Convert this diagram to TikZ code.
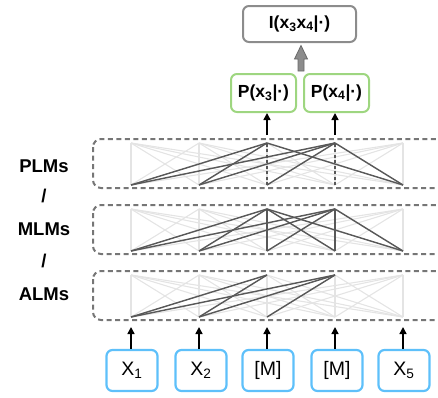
\documentclass[tikz,border=0pt]{standalone}
\usepackage{fontspec}
\setmainfont{Liberation Sans}
\usetikzlibrary{arrows.meta}
\definecolor{inblue}{RGB}{94,192,250}
\definecolor{pgreen}{RGB}{158,214,128}
\definecolor{igray}{RGB}{140,140,140}
\definecolor{dashcol}{RGB}{118,118,118}
\definecolor{lightcol}{RGB}{228,228,228}
\definecolor{darkcol}{RGB}{88,88,88}
\begin{document}
\begin{tikzpicture}[x=1pt,y=-1pt,
  inbox/.style={draw=inblue, line width=2.2pt, rounded corners=6pt, minimum width=51pt, minimum height=41pt, inner sep=0pt, font=\fontsize{19.5}{19.5}\selectfont},
  pbox/.style={draw=pgreen, line width=2pt, rounded corners=6pt, minimum width=65pt, minimum height=38pt, inner sep=0pt, font=\fontsize{17.5}{17.5}\selectfont\bfseries},
  ibox/.style={draw=igray, line width=2pt, rounded corners=6pt, minimum width=113pt, minimum height=36pt, inner sep=0pt, font=\fontsize{17.5}{17.5}\selectfont\bfseries},
  layerbox/.style={draw=dashcol, line width=2pt, dash pattern=on 5pt off 3.5pt, rounded corners=8pt},
  lightedge/.style={draw=lightcol, line width=1.1pt},
  darkedge/.style={draw=darkcol, line width=1.4pt},
  darkdash/.style={draw=darkcol, line width=1.3pt, dash pattern=on 3pt off 2.5pt},
  uparrow/.style={draw=black, line width=1.5pt, -{Triangle[length=7pt,width=7pt]}},
  sidelabel/.style={font=\fontsize{18.5}{18.5}\selectfont\bfseries, inner sep=0pt}
]
\useasboundingbox (0,0) rectangle (438,397);

% layer boxes
\draw[layerbox] (93,139) rectangle (450,188);
\draw[layerbox] (93,205) rectangle (450,254);
\draw[layerbox] (93,271) rectangle (450,320);

% layer coordinates
\foreach \l/\ty/\by in {1/143/185, 2/209/251, 3/275/317} {
  \foreach \i in {1,...,5} {
    \coordinate (T\l-\i) at ({131+68*(\i-1)},\ty);
    \coordinate (B\l-\i) at ({131+68*(\i-1)},\by);
  }
}

% light full connections
\foreach \l in {1,2,3} {
  \foreach \i in {1,...,5} {
    \foreach \j in {1,...,5} {
      \draw[lightedge] (B\l-\i) -- (T\l-\j);
    }
  }
}

% layer 1 (top)
\foreach \a/\b in {1/3,1/4,2/3,2/4,3/4,5/3,5/4} {
  \draw[darkedge] (B1-\a) -- (T1-\b);
}
\draw[darkdash] (B1-3) -- (T1-3);
\draw[darkdash] (B1-4) -- (T1-4);

% layer 2
\foreach \a/\b in {1/3,1/4,2/3,2/4,3/3,3/4,4/3,4/4,5/3,5/4} {
  \draw[darkedge] (B2-\a) -- (T2-\b);
}

% layer 3
\foreach \a/\b in {1/3,1/4,2/3,2/4,3/4} {
  \draw[darkedge] (B3-\a) -- (T3-\b);
}

% inputs
\node[inbox] (in1) at (132,370.5) {X\textsubscript{1}};
\node[inbox] (in2) at (201,370.5) {X\textsubscript{2}};
\node[inbox] (in3) at (268,370.5) {[M]};
\node[inbox] (in4) at (337,370.5) {[M]};
\node[inbox] (in5) at (404,370.5) {X\textsubscript{5}};
\foreach \i in {1,...,5} {
  \draw[uparrow] (in\i.north -| B3-\i) -- ([yshift=-10pt]B3-\i);
}

% outputs
\node[pbox] (p3) at (263.5,93) {P(x\textsubscript{3}|·)};
\node[pbox] (p4) at (336.5,93) {P(x\textsubscript{4}|·)};
\draw[uparrow] ([yshift=8pt]T1-3) -- (p3.south -| T1-3);
\draw[uparrow] ([yshift=8pt]T1-4) -- (p4.south -| T1-4);

\node[ibox] (I) at (299.5,24) {I(x\textsubscript{3}x\textsubscript{4}|·)};

% fat arrow
\draw[fill=igray, draw=darkcol!90, line width=0.8pt, line join=miter]
  (298,71) -- (298,59) -- (294.5,59) -- (301,45.5) -- (307.5,59) -- (304,59) -- (304,71) -- cycle;

% side labels
\node[sidelabel] (plm) at (44,166) {PLMs};
\node[sidelabel] (s1) at (44,196) {/};
\node[sidelabel] (mlm) at (44,229) {MLMs};
\node[sidelabel] (s2) at (44,261) {/};
\node[sidelabel] (alm) at (44,294) {ALMs};
\end{tikzpicture}
\end{document}
